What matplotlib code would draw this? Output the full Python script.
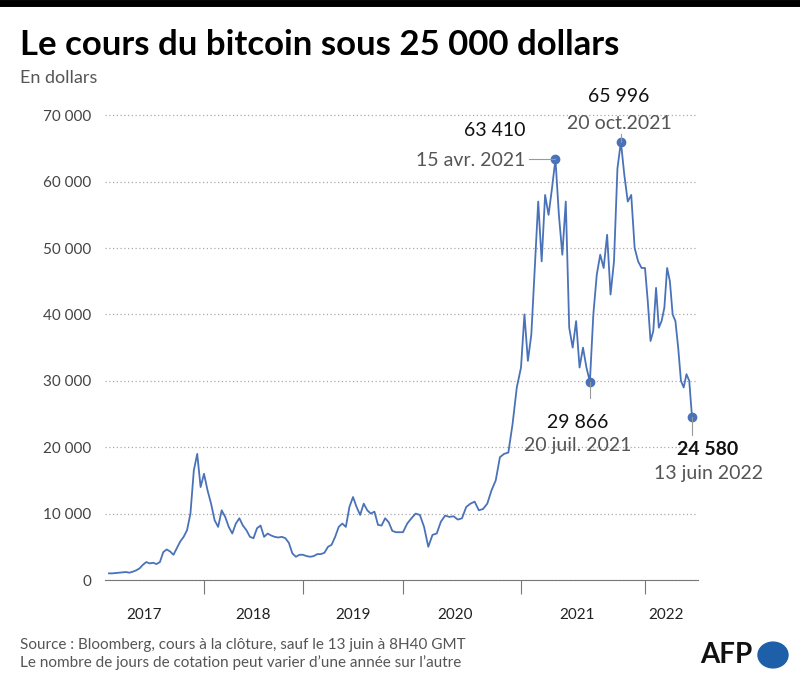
import numpy as np
import matplotlib.pyplot as plt

plt.rcParams['font.family'] = ['Lato', 'DejaVu Sans']

years = ['2017', '2018', '2019', '2020', '2021', '2022']
# closing prices in dollars, roughly twice a month
p2017 = [1000, 1000, 1050, 1100, 1150, 1200, 1100, 1250, 1450, 1750, 2300, 2700, 2500, 2600,
         2400, 2700, 4200, 4600, 4300, 3800, 4800, 5800, 6500, 7500, 10000, 16500, 19000, 14000]
p2018 = [16000, 13500, 11500, 9000, 8000, 10500, 9500, 8000, 7000, 8500, 9300, 8200, 7500, 6500,
         6300, 7800, 8200, 6500, 7000, 6700, 6500, 6400, 6500, 6300, 5600, 4000, 3500, 3800]
p2019 = [3800, 3600, 3500, 3600, 3900, 3900, 4100, 5000, 5300, 6500, 8000, 8500, 8000, 11000,
         12500, 11000, 9800, 11500, 10500, 10000, 10300, 8300, 8200, 9300, 8700, 7400, 7200, 7200]
p2020 = [7200, 8500, 9300, 10000, 9800, 8000, 5000, 6800, 7000, 8800, 9700, 9500, 9600, 9100,
         9300, 11000, 11500, 11800, 10500, 10700, 11500, 13500, 15000, 18500, 19000, 19200, 23500, 29000]
p2021 = [32000, 40000, 33000, 37000, 47000, 57000, 48000, 58000, 55000, 59000, 63410, 55000,
         49000, 57000, 38000, 35000, 39000, 32000, 35000, 32000, 29866, 40000, 46000, 49000,
         47000, 52000, 43000, 48000, 62000, 65996, 61000, 57000, 58000, 50000, 48000, 47000]
p2022 = [47000, 42000, 36000, 37500, 44000, 38000, 39000, 41000, 47000, 45000, 40000, 39000,
         35000, 30000, 29000, 31000, 30000, 24580]
series = [p2017, p2018, p2019, p2020, p2021, p2022]

# width of each year on the x axis (trading days vary; 2022 stops on 13 June)
year_len = [95, 99, 100, 118, 124, 47]

fig = plt.figure(figsize=(8, 6.87), dpi=100)
ax = fig.add_axes([105 / 800, 1 - 580 / 687, 593 / 800, 478 / 687])

xs, ys = [], []
start = 4
edges = [start]
for k, (vals, w) in enumerate(zip(series, year_len)):
    n = len(vals)
    step = w / n if k < len(series) - 1 else w / (n - 1)
    xs += [start + i * step for i in range(n)]
    ys += vals
    start += w
    edges.append(start)
xs = np.array(xs)
ys = np.array(ys)
blue = '#4a72b8'
ax.plot(xs, ys, color=blue, lw=1.3)

ax.set_xlim(0, 593)
ax.set_ylim(0, 72000)
ax.set_yticks(range(0, 70001, 10000))
ax.set_yticklabels(['0'] + [f'{v // 1000} 000' for v in range(10000, 70001, 10000)])
ax.grid(axis='y', ls=(0, (1, 2)), color='#aaaaaa', lw=0.9)
for s in ['top', 'right', 'left']:
    ax.spines[s].set_visible(False)
ax.spines['bottom'].set_color('#777777')
ax.tick_params(axis='y', length=0, labelsize=11, labelcolor='#444444', pad=10)
ax.set_xticks(edges[1:-1])
ax.set_xticklabels([])
ax.tick_params(axis='x', length=10, color='#777777', direction='out')
label_x = [39, 148, 248, 350, 472, 561]
for lx, y in zip(label_x, years):
    ax.text(lx, -4200, y, ha='center', va='top', fontsize=11, color='#222222')

grey = '#555555'
# annotated points
def mark(v):
    i = int(np.where(ys == v)[0][0])
    ax.plot(xs[i], ys[i], 'o', color=blue, ms=6)
    return xs[i], ys[i]

x1, y1 = mark(63410)
ax.plot([x1 - 26, x1], [y1, y1], color='#999999', lw=0.8)
ax.text(x1 - 30, y1 + 3000, '63 410', ha='right', va='bottom', fontsize=14, color='#111111')
ax.text(x1 - 30, y1 - 200, '15 avr. 2021', ha='right', va='center', fontsize=14, color=grey)
x2, y2 = mark(65996)
ax.plot([x2, x2], [y2, y2 + 1200], color='#999999', lw=0.8)
ax.text(x2 - 2, y2 + 5600, '65 996', ha='center', va='bottom', fontsize=14, color='#111111')
ax.text(x2 - 2, y2 + 1500, '20 oct.2021', ha='center', va='bottom', fontsize=14, color=grey)
x3, y3 = mark(29866)
ax.plot([x3, x3], [y3, y3 - 2500], color='#999999', lw=0.8)
ax.text(x3 - 12, y3 - 4800, '29 866', ha='center', va='top', fontsize=14, color='#111111')
ax.text(x3 - 12, y3 - 8400, '20 juil. 2021', ha='center', va='top', fontsize=14, color=grey)
x4, y4 = mark(24580)
ax.plot([x4, x4], [y4, y4 - 2700], color='#999999', lw=0.8)
ax.text(x4 + 16, y4 - 3600, '24 580', ha='center', va='top', fontsize=14, fontweight='bold', color='#111111')
ax.text(x4 + 16, y4 - 7200, '13 juin 2022', ha='center', va='top', fontsize=14, color=grey)

# header and footer
fig.add_artist(plt.Line2D([0, 1], [1 - 3 / 687, 1 - 3 / 687], color='black', lw=5))
fig.text(20 / 800, 1 - 45 / 687, 'Le cours du bitcoin sous 25 000 dollars', fontsize=25,
         fontweight='bold', va='center', color='black')
fig.text(20 / 800, 1 - 78 / 687, 'En dollars', fontsize=13, va='center', color=grey)
fig.text(20 / 800, 1 - 645 / 687, 'Source : Bloomberg, cours à la clôture, sauf le 13 juin à 8H40 GMT',
         fontsize=11, va='center', color=grey)
fig.text(20 / 800, 1 - 663 / 687, "Le nombre de jours de cotation peut varier d\u2019une année sur l\u2019autre",
         fontsize=11, va='center', color=grey)
fig.text(752 / 800, 1 - 655 / 687, 'AFP', fontsize=20, fontweight='bold', ha='right', va='center', color='#111111')
fig.add_artist(plt.Circle((773 / 800, 1 - 655 / 687), 15 / 800, transform=fig.transFigure,
                          color='#1d5fa8'))

fig.savefig('out.png', dpi=100)
